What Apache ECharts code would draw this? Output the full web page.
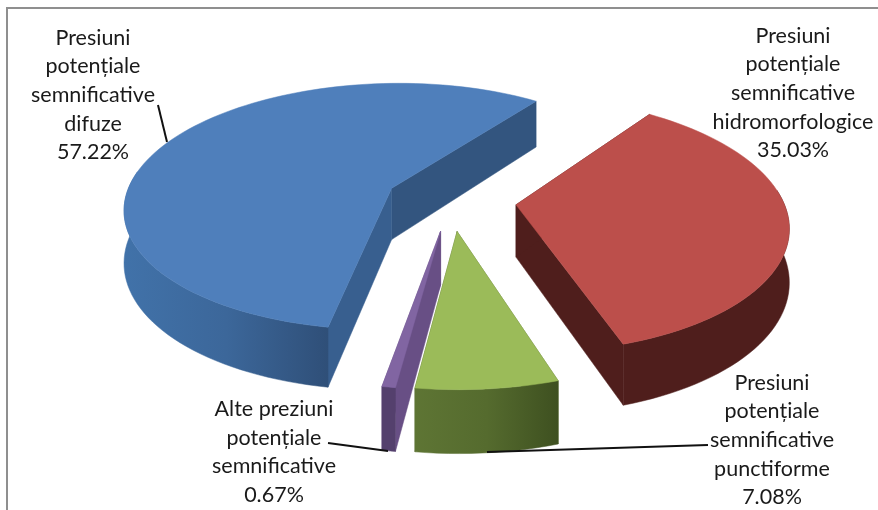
<!DOCTYPE html>
<html>
<head>
<meta charset="utf-8">
<style>html,body{margin:0;padding:0;background:#fff}#chart{width:878px;height:510px}</style>
<script src="https://cdn.jsdelivr.net/npm/echarts@6/dist/echarts.min.js"></script>
</head>
<body>
<div id="chart"></div>
<script>
// Share of significant pressures, in percent
const categories = [
  'Presiuni\npotențiale\nsemnificative\ndifuze',
  'Presiuni\npotențiale\nsemnificative\nhidromorfologice',
  'Presiuni\npotențiale\nsemnificative\npunctiforme',
  'Alte preziuni\npotențiale\nsemnificative'
];
const shares = [57.22, 35.03, 7.08, 0.67];

// Face colours per slice
const topColors = ['#4f7fbb', '#bc4f4b', '#9bbb59', '#8165a2'];
const cutColorsA = ['#385f8f', '#4f1e1c', '#5a6f31', '#684f85']; // wall on the leading cut
const cutColorsB = ['#33557f', '#4f1e1c', '#4e622a', '#684f85']; // wall on the trailing cut
const rimStops = [
  [[0, '#4172a9'], [0.5, '#3c679a'], [1, '#2f4f78']],
  [[0, '#4f1e1c'], [1, '#4f1e1c']],
  [[0, '#5e7534'], [0.5, '#556b2e'], [1, '#3e5020']],
  [[0, '#54406d'], [1, '#54406d']]
];

// Tilted-disc projection used for the exploded pie
const view = { cx: 451, cy: 200, rx: 267, ry: 124, persp: 0.15, thick: 52, explode: 0.245, startDeg: 100 };
const labelPos = [[93, 95], [793, 93], [772, 440], [274, 452]];
const leaders = [
  [[158, 105], [167, 142]],
  [[487, 452], [708, 445]],
  [[328, 443], [388, 451]]
];

const total = shares.reduce((a, b) => a + b, 0);
const rad = d => d * Math.PI / 180;

function project(a, b, z) {
  const w = 1 - view.persp * b;
  return [view.cx + view.rx * a / w, view.cy + (view.ry * b + view.thick * z) / w];
}

function sliceShapes(index, value) {
  const before = shares.slice(0, index).reduce((a, b) => a + b, 0);
  const start = view.startDeg + before / total * 360;
  const span = value / total * 360;
  const mid = rad(start + span / 2);
  const ox = view.explode * Math.cos(mid);
  const oy = view.explode * Math.sin(mid);
  const steps = Math.max(4, Math.ceil(span / 2));
  const arc = [];
  const frontArc = [];
  for (let i = 0; i <= steps; i++) {
    const t = rad(start + span * i / steps);
    const p = [ox + Math.cos(t), oy + Math.sin(t)];
    arc.push(p);
    // Only the part of the rim that faces the viewer gets drawn
    if (Math.sin(t) > -0.15) frontArc.push(p);
  }
  const top = [[ox, oy]].concat(arc).map(p => project(p[0], p[1], 0));
  const rimTop = frontArc.map(p => project(p[0], p[1], 0));
  const rimLow = frontArc.map(p => project(p[0], p[1], 1)).reverse();
  const wall = p => [project(ox, oy, 0), project(p[0], p[1], 0), project(p[0], p[1], 1), project(ox, oy, 1)];
  const poly = (points, fill, z2) => ({ type: 'polygon', z2, shape: { points }, style: { fill, stroke: fill, lineWidth: 0.5 } });
  const gradient = {
    type: 'linear', x: 0, y: 0, x2: 1, y2: 0,
    colorStops: rimStops[index].map(s => ({ offset: s[0], color: s[1] }))
  };
  // Back to front: the two cut walls, the visible rim, then the top face
  return [
    poly(wall(arc[arc.length - 1]), cutColorsB[index], 1),
    poly(wall(arc[0]), cutColorsA[index], 1),
    poly(rimTop.concat(rimLow), gradient, 2),
    poly(top, topColors[index], 3)
  ];
}

function renderSlice(params, api) {
  const i = params.dataIndex;
  const value = api.value(0);
  return {
    type: 'group',
    children: sliceShapes(i, value).concat([{
      type: 'text',
      z2: 10,
      style: {
        x: labelPos[i][0],
        y: labelPos[i][1],
        text: categories[i] + '\n' + value.toFixed(2) + '%',
        align: 'center',
        verticalAlign: 'middle',
        font: '21.5px Lato',
        lineHeight: 28.7,
        fill: '#1a1a1a'
      }
    }])
  };
}

const frameColor = '#8f8f8f';
const chart = echarts.init(document.getElementById('chart'), null, { renderer: 'canvas' });
chart.setOption({
  animation: false,
  backgroundColor: '#ffffff',
  graphic: [
    { type: 'polyline', z: 0, shape: { points: [[7, 510], [7, 8], [878, 8]] }, style: { stroke: frameColor, lineWidth: 2, fill: null } }
  ].concat(leaders.map(l => ({
    type: 'line', z: 20,
    shape: { x1: l[0][0], y1: l[0][1], x2: l[1][0], y2: l[1][1] },
    style: { stroke: '#111111', lineWidth: 2 }
  }))),
  series: [{
    type: 'custom',
    coordinateSystem: 'none',
    renderItem: renderSlice,
    data: shares.map(v => [v])
  }]
});
</script>
</body>
</html>
